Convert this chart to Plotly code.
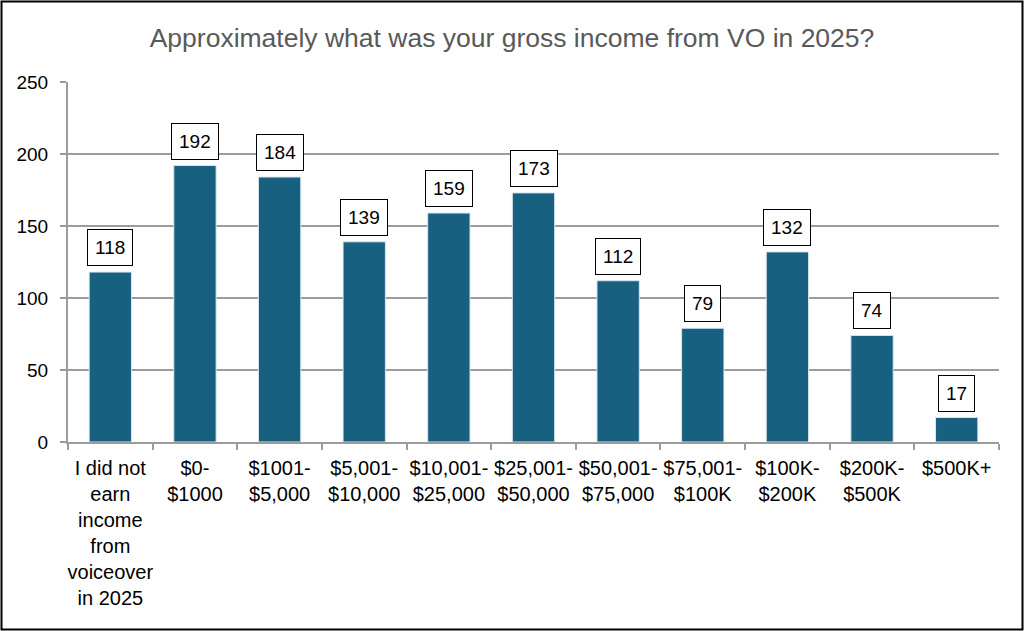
import plotly.graph_objects as go

# Survey responses
categories = [
    "I did not<br>earn<br>income<br>from<br>voiceover<br>in 2025",
    "$0-<br>$1000",
    "$1001-<br>$5,000",
    "$5,001-<br>$10,000",
    "$10,001-<br>$25,000",
    "$25,001-<br>$50,000",
    "$50,001-<br>$75,000",
    "$75,001-<br>$100K",
    "$100K-<br>$200K",
    "$200K-<br>$500K",
    "$500K+",
]
responses = [118, 192, 184, 139, 159, 173, 112, 79, 132, 74, 17]

y_ticks = [0, 50, 100, 150, 200, 250]

font_family = "Liberation Sans, Arial, sans-serif"
grid_color = "#9c9c9c"

fig = go.Figure()
fig.add_trace(go.Bar(
    x=categories,
    y=responses,
    marker=dict(color="#17607f", line=dict(color="#d6e6ee", width=1)),
    width=0.5,
    hoverinfo="x+y",
))

# boxed data labels
for cat, val in zip(categories, responses):
    fig.add_annotation(
        x=cat, y=val, text=str(val),
        showarrow=False, yanchor="bottom", yshift=6,
        font=dict(size=19, color="black", family=font_family),
        bgcolor="white", bordercolor="black", borderwidth=1, borderpad=7,
    )

W, H = 1024, 631
L, R, T, B = 68, 25, 82, 189
pw, ph = W - L - R, H - T - B

# outer chart border
fig.add_shape(
    type="rect", xref="paper", yref="paper",
    x0=(-L + 1.5) / pw, x1=1 + (R - 1.5) / pw,
    y0=(-B + 1.5) / ph, y1=1 + (T - 1.5) / ph,
    line=dict(color="black", width=2),
)

fig.update_layout(
    width=W, height=H,
    margin=dict(l=L, r=R, t=T, b=B),
    paper_bgcolor="white", plot_bgcolor="white",
    showlegend=False,
    title=dict(
        text="Approximately what was your gross income from VO in 2025?",
        x=0.5, xanchor="center", y=1 - 38 / H, yanchor="middle",
        font=dict(size=26.5, color="#595959", family=font_family),
    ),
    font=dict(family=font_family, size=19, color="black"),
    bargap=0.5,
)
fig.update_xaxes(
    showline=True, linecolor=grid_color, linewidth=2,
    ticks="outside", tickson="boundaries", ticklen=6, tickcolor=grid_color, tickwidth=2,
    tickfont=dict(size=20, color="black"), tickangle=0,
    ticklabelstandoff=7,
    showgrid=False,
)
fig.update_yaxes(
    range=[0, 250], tickvals=y_ticks,
    showline=True, linecolor=grid_color, linewidth=2,
    ticks="outside", ticklen=6, tickcolor=grid_color, tickwidth=2,
    showgrid=True, gridcolor=grid_color, gridwidth=2,
    tickfont=dict(size=19, color="black"),
    ticklabelstandoff=8,
    zeroline=False,
)

fig.write_html(
    "out.html",
    config={"displayModeBar": False},
    post_script="document.body.style.margin='0px';",
)
